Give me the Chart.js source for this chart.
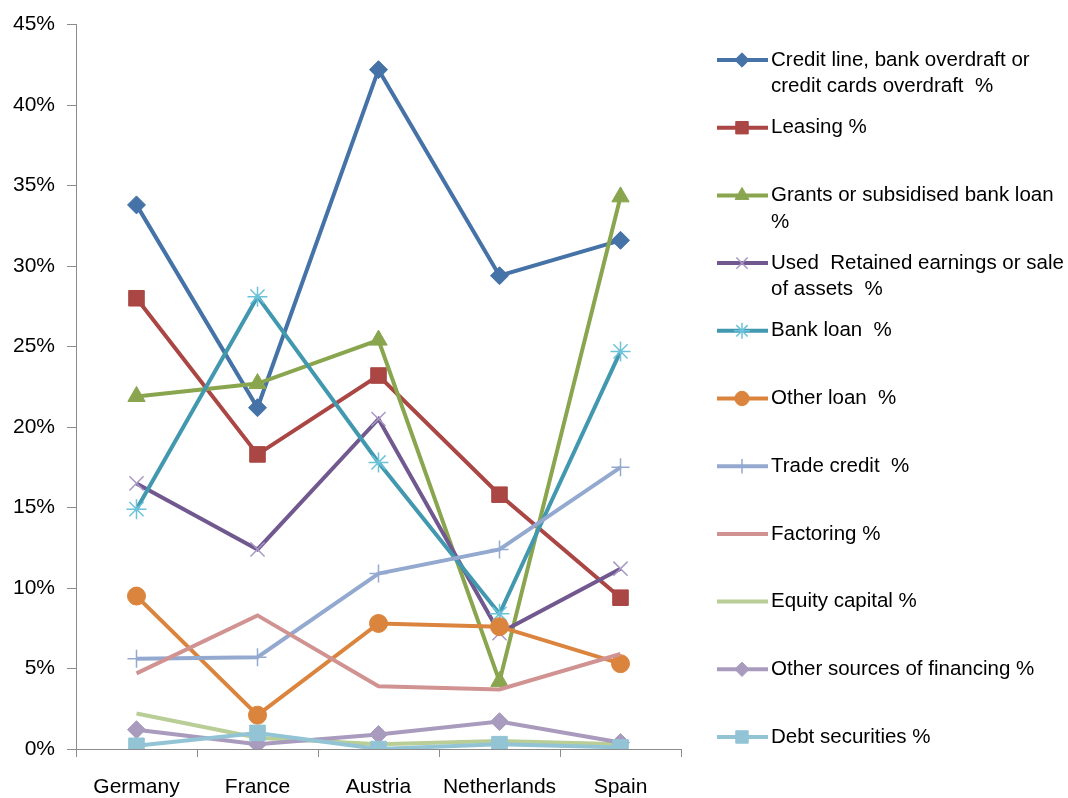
<!DOCTYPE html>
<html>
<head>
<meta charset="utf-8">
<script src="https://cdn.jsdelivr.net/npm/chart.js@4.4.1/dist/chart.umd.min.js"></script>
<style>
    html, body { margin: 0; padding: 0; background: #ffffff; }
</style>
</head>
<body>
<canvas id="lineChart" width="1068" height="798"></canvas>
<script>
const countries = ['Germany', 'France', 'Austria', 'Netherlands', 'Spain'];
const yTicks = [0, 5, 10, 15, 20, 25, 30, 35, 40, 45];

// shares of firms by financing source, %
const creditLine   = [33.8, 21.2, 42.2, 29.4, 31.6];
const leasing      = [28.0, 18.3, 23.2, 15.8, 9.4];
const grants       = [21.9, 22.7, 25.4, 4.2, 34.3];
const retained     = [16.5, 12.4, 20.5, 7.2, 11.2];
const bankLoan     = [14.9, 28.1, 17.8, 8.4, 24.7];
const otherLoan    = [9.5, 2.1, 7.8, 7.6, 5.3];
const tradeCredit  = [5.6, 5.7, 10.9, 12.4, 17.5];
const factoring    = [4.7, 8.3, 3.9, 3.7, 5.9];
const equity       = [2.2, 0.7, 0.3, 0.5, 0.3];
const otherSources = [1.2, 0.3, 0.9, 1.7, 0.4];
const debtSec      = [0.2, 1.0, 0.0, 0.3, 0.1];

const seriesNames = [
    ['Credit line, bank overdraft or', 'credit cards overdraft  %'],
    ['Leasing %'],
    ['Grants or subsidised bank loan', '%'],
    ['Used  Retained earnings or sale', 'of assets  %'],
    ['Bank loan  %'],
    ['Other loan  %'],
    ['Trade credit  %'],
    ['Factoring %'],
    ['Equity capital %'],
    ['Other sources of financing %'],
    ['Debt securities %']
];

const FONT = '"Liberation Sans", Arial, sans-serif';

function series(i, data, color, style, radius, extra) {
    return Object.assign({
        label: seriesNames[i].join(' '),
        data: data,
        borderColor: color,
        backgroundColor: color,
        borderWidth: 4,
        pointStyle: style,
        pointRadius: radius,
        pointHoverRadius: radius,
        pointBackgroundColor: color,
        pointBorderColor: color,
        pointBorderWidth: 1,
        tension: 0,
        order: 20 - i
    }, extra || {});
}

const datasets = [
    series(0, creditLine, '#4572a7', 'rectRot', 9),
    series(1, leasing, '#aa4643', 'rect', 11),
    series(2, grants, '#89a54e', 'triangle', 10),
    series(3, retained, '#71588f', 'crossRot', 10, { pointBorderColor: '#a898c4', pointBorderWidth: 1.5 }),
    series(4, bankLoan, '#4198af', 'star', 10, { pointBorderColor: '#6cc3d9', pointBorderWidth: 1.5 }),
    series(5, otherLoan, '#db843d', 'circle', 9),
    series(6, tradeCredit, '#93a9cf', 'cross', 9, { pointBorderWidth: 1.5 }),
    series(7, factoring, '#d19392', false, 0),
    series(8, equity, '#b9cd96', false, 0),
    series(9, otherSources, '#a99bbd', 'rectRot', 9),
    series(10, debtSec, '#92c4d5', 'rect', 11)
];

// legend drawn at the right of the plot, one entry per series
const sideLegend = {
    id: 'sideLegend',
    afterDraw(chart) {
        const ctx = chart.ctx;
        ctx.save();
        chart.data.datasets.forEach((ds, i) => {
            const y = 60 + i * 67.7;
            ctx.strokeStyle = ds.borderColor;
            ctx.lineWidth = 4;
            ctx.beginPath();
            ctx.moveTo(717, y);
            ctx.lineTo(768, y);
            ctx.stroke();
            if (ds.pointStyle) {
                ctx.fillStyle = ds.pointBackgroundColor;
                ctx.strokeStyle = ds.pointBorderColor;
                ctx.lineWidth = ds.pointBorderWidth;
                Chart.helpers.drawPoint(ctx, {
                    pointStyle: ds.pointStyle,
                    radius: ds.pointRadius * 0.8,
                    borderWidth: ds.pointBorderWidth,
                    rotation: 0
                }, 742, y);
            }
            ctx.fillStyle = '#000000';
            ctx.font = '20.5px ' + FONT;
            ctx.textBaseline = 'middle';
            ctx.textAlign = 'left';
            seriesNames[i].forEach((line, k) => {
                ctx.fillText(line, 771, y + k * 26.5);
            });
        });
        ctx.restore();
    }
};

const axisColor = '#8c8c8c';

new Chart(document.getElementById('lineChart').getContext('2d'), {
    type: 'line',
    data: { labels: countries, datasets: datasets },
    options: {
        responsive: false,
        animation: false,
        layout: { padding: { top: 24, right: 387, left: 0, bottom: 0 } },
        plugins: {
            legend: { display: false },
            tooltip: { enabled: false }
        },
        scales: {
            x: {
                offset: true,
                afterFit: s => { s.height = 49; },
                grid: {
                    offset: true,
                    drawOnChartArea: false,
                    tickLength: 8,
                    color: axisColor
                },
                border: { color: axisColor, width: 1 },
                ticks: {
                    color: '#000000',
                    padding: 18,
                    maxRotation: 0,
                    font: { family: FONT, size: 21 }
                }
            },
            y: {
                min: yTicks[0],
                max: yTicks[yTicks.length - 1],
                afterFit: s => { s.width = 76; },
                afterBuildTicks: s => { s.ticks = yTicks.map(v => ({ value: v })); },
                grid: {
                    drawOnChartArea: false,
                    tickLength: 9,
                    color: axisColor
                },
                border: { color: axisColor, width: 1 },
                ticks: {
                    color: '#000000',
                    padding: 12,
                    font: { family: FONT, size: 21 },
                    callback: value => value + '%'
                }
            }
        }
    },
    plugins: [sideLegend]
});
</script>
</body>
</html>
